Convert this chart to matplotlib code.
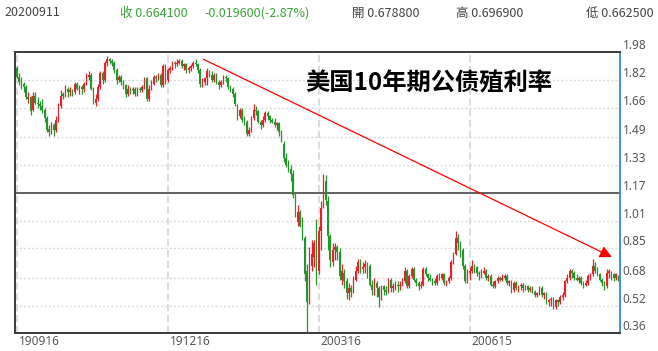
import numpy as np
import matplotlib
matplotlib.use("Agg")
import matplotlib.pyplot as plt
import matplotlib.transforms as mtransforms

# ── data: daily OHLC of the US 10y yield, 2019-09-16 .. 2020-09-11 (one row per week) ──
opens = [
    1.89, 1.84, 1.81, 1.80, 1.78,   1.71, 1.72, 1.65, 1.73, 1.69,
    1.68, 1.67, 1.65, 1.60, 1.54,   1.52, 1.56, 1.53, 1.59, 1.67,
    1.74, 1.73, 1.77, 1.75, 1.76,   1.75, 1.80, 1.77, 1.78, 1.77,
    1.80, 1.84, 1.85, 1.77, 1.69,   1.71, 1.78, 1.86, 1.82, 1.92,
    1.94, 1.93, 1.92, 1.88, 1.82,   1.84, 1.81, 1.79, 1.74, 1.77,
    1.76, 1.77, 1.74, 1.77, 1.76,   1.78, 1.83, 1.71, 1.77, 1.80,
    1.84, 1.83, 1.85, 1.79, 1.90,   1.82, 1.88, 1.89, 1.92, 1.91,
    1.92, 1.93, 1.90, 1.91, 1.88,   1.89, 1.90, 1.92, 1.91, 1.88,
    1.80, 1.81, 1.83, 1.87, 1.85,   1.82, 1.85, 1.81, 1.79, 1.81,
    1.84, 1.83, 1.78, 1.77, 1.74,   1.66, 1.61, 1.65, 1.59, 1.58,
    1.51, 1.53, 1.60, 1.65, 1.64,   1.58, 1.56, 1.59, 1.63, 1.61,
    1.59, 1.58, 1.56, 1.57, 1.52,   1.45, 1.37, 1.33, 1.31, 1.28,
    1.16, 1.00, 1.06, 1.00, 0.91,   0.72, 0.55, 0.75, 0.80, 0.98,
    0.72, 0.95, 1.09, 1.24, 1.12,   0.92, 0.77, 0.84, 0.86, 0.83,
    0.67, 0.71, 0.66, 0.59, 0.62,   0.60, 0.67, 0.72, 0.77, 0.73,
    0.74, 0.76, 0.75, 0.64, 0.61,   0.65, 0.62, 0.57, 0.63, 0.61,
    0.60, 0.67, 0.62, 0.63, 0.64,   0.63, 0.64, 0.66, 0.72, 0.63,
    0.69, 0.73, 0.67, 0.65, 0.63,   0.64, 0.73, 0.70, 0.68, 0.67,
    0.66, 0.65, 0.69, 0.68, 0.70,   0.65, 0.66, 0.68, 0.77, 0.82,
    0.91, 0.88, 0.84, 0.75, 0.66,   0.71, 0.72, 0.75, 0.74, 0.71,
    0.70, 0.71, 0.72, 0.68, 0.69,   0.64, 0.63, 0.66, 0.68, 0.67,
    0.68, 0.69, 0.65, 0.66, 0.61,   0.65, 0.62, 0.63, 0.64, 0.62,
    0.63, 0.61, 0.62, 0.60, 0.58,   0.59, 0.62, 0.58, 0.59, 0.54,
    0.55, 0.56, 0.51, 0.55, 0.54,   0.57, 0.58, 0.66, 0.68, 0.72,
    0.71, 0.68, 0.67, 0.68, 0.65,   0.64, 0.65, 0.69, 0.70, 0.75,
    0.72, 0.70, 0.67, 0.65, 0.63,   0.71, 0.70, 0.70, 0.68, 0.6788,
]
highs = [
    1.90, 1.86, 1.84, 1.81, 1.79,   1.75, 1.73, 1.75, 1.75, 1.72,
    1.70, 1.71, 1.66, 1.61, 1.56,   1.58, 1.57, 1.61, 1.69, 1.76,
    1.75, 1.79, 1.78, 1.78, 1.77,   1.81, 1.81, 1.79, 1.79, 1.81,
    1.86, 1.87, 1.86, 1.78, 1.74,   1.80, 1.87, 1.87, 1.93, 1.96,
    1.95, 1.94, 1.93, 1.89, 1.85,   1.85, 1.82, 1.80, 1.79, 1.78,
    1.78, 1.78, 1.78, 1.78, 1.79,   1.84, 1.84, 1.79, 1.82, 1.85,
    1.85, 1.86, 1.86, 1.91, 1.91,   1.89, 1.90, 1.93, 1.93, 1.94,
    1.94, 1.94, 1.92, 1.92, 1.90,   1.91, 1.93, 1.94, 1.92, 1.89,
    1.83, 1.84, 1.89, 1.88, 1.87,   1.86, 1.86, 1.82, 1.82, 1.85,
    1.85, 1.84, 1.79, 1.78, 1.75,   1.68, 1.66, 1.66, 1.61, 1.59,
    1.55, 1.61, 1.68, 1.67, 1.65,   1.59, 1.61, 1.64, 1.64, 1.62,
    1.60, 1.60, 1.58, 1.58, 1.53,   1.47, 1.40, 1.36, 1.33, 1.30,
    1.17, 1.10, 1.07, 1.03, 0.92,   0.76, 0.86, 0.90, 0.90, 1.02,
    0.98, 1.12, 1.28, 1.27, 1.15,   0.93, 0.88, 0.88, 0.87, 0.85,
    0.76, 0.73, 0.68, 0.65, 0.64,   0.69, 0.75, 0.79, 0.79, 0.77,
    0.78, 0.77, 0.76, 0.67, 0.68,   0.66, 0.63, 0.64, 0.64, 0.63,
    0.68, 0.68, 0.65, 0.66, 0.66,   0.66, 0.68, 0.74, 0.73, 0.70,
    0.74, 0.74, 0.68, 0.66, 0.66,   0.74, 0.74, 0.71, 0.70, 0.68,
    0.68, 0.70, 0.71, 0.71, 0.71,   0.67, 0.69, 0.78, 0.83, 0.95,
    0.93, 0.89, 0.85, 0.76, 0.73,   0.74, 0.78, 0.76, 0.75, 0.72,
    0.73, 0.74, 0.73, 0.70, 0.70,   0.66, 0.67, 0.69, 0.69, 0.70,
    0.70, 0.70, 0.67, 0.67, 0.66,   0.66, 0.64, 0.65, 0.65, 0.64,
    0.64, 0.63, 0.63, 0.61, 0.60,   0.63, 0.63, 0.60, 0.60, 0.56,
    0.57, 0.57, 0.56, 0.56, 0.58,   0.60, 0.67, 0.70, 0.73, 0.73,
    0.72, 0.70, 0.69, 0.69, 0.66,   0.67, 0.70, 0.71, 0.79, 0.77,
    0.74, 0.71, 0.68, 0.66, 0.73,   0.73, 0.72, 0.71, 0.71, 0.6969,
]
lows = [
    1.83, 1.79, 1.77, 1.75, 1.71,   1.69, 1.62, 1.64, 1.68, 1.66,
    1.65, 1.63, 1.58, 1.52, 1.50,   1.51, 1.50, 1.52, 1.58, 1.66,
    1.71, 1.72, 1.72, 1.73, 1.73,   1.74, 1.76, 1.74, 1.74, 1.75,
    1.79, 1.82, 1.76, 1.68, 1.67,   1.70, 1.77, 1.80, 1.81, 1.90,
    1.91, 1.90, 1.86, 1.80, 1.81,   1.79, 1.77, 1.72, 1.73, 1.74,
    1.74, 1.73, 1.73, 1.75, 1.75,   1.77, 1.70, 1.70, 1.76, 1.79,
    1.81, 1.82, 1.78, 1.78, 1.80,   1.81, 1.86, 1.88, 1.89, 1.90,
    1.91, 1.89, 1.88, 1.86, 1.86,   1.87, 1.89, 1.90, 1.86, 1.78,
    1.78, 1.79, 1.79, 1.84, 1.81,   1.81, 1.80, 1.77, 1.78, 1.80,
    1.81, 1.77, 1.75, 1.72, 1.67,   1.59, 1.60, 1.58, 1.56, 1.50,
    1.50, 1.52, 1.59, 1.62, 1.57,   1.54, 1.55, 1.58, 1.59, 1.57,
    1.57, 1.55, 1.53, 1.50, 1.46,   1.35, 1.32, 1.29, 1.24, 1.14,
    1.03, 0.98, 0.97, 0.90, 0.66,   0.32, 0.53, 0.72, 0.74, 0.64,
    0.70, 0.84, 1.08, 1.10, 0.84,   0.74, 0.75, 0.78, 0.78, 0.67,
    0.64, 0.62, 0.56, 0.55, 0.57,   0.59, 0.66, 0.71, 0.71, 0.71,
    0.71, 0.68, 0.63, 0.58, 0.58,   0.57, 0.51, 0.55, 0.58, 0.58,
    0.59, 0.60, 0.60, 0.61, 0.60,   0.61, 0.63, 0.65, 0.62, 0.62,
    0.68, 0.66, 0.63, 0.61, 0.62,   0.63, 0.69, 0.66, 0.66, 0.64,
    0.64, 0.64, 0.67, 0.67, 0.64,   0.63, 0.65, 0.67, 0.76, 0.81,
    0.84, 0.80, 0.73, 0.65, 0.65,   0.67, 0.71, 0.71, 0.69, 0.67,
    0.68, 0.70, 0.67, 0.66, 0.63,   0.62, 0.62, 0.65, 0.66, 0.66,
    0.67, 0.64, 0.63, 0.59, 0.60,   0.61, 0.60, 0.61, 0.60, 0.61,
    0.60, 0.60, 0.59, 0.57, 0.57,   0.58, 0.57, 0.56, 0.53, 0.52,
    0.52, 0.50, 0.50, 0.52, 0.53,   0.55, 0.57, 0.65, 0.67, 0.68,
    0.67, 0.66, 0.65, 0.64, 0.62,   0.63, 0.64, 0.67, 0.69, 0.71,
    0.69, 0.66, 0.63, 0.61, 0.62,   0.68, 0.67, 0.66, 0.67, 0.6625,
]
closes = [
    1.84, 1.81, 1.80, 1.78, 1.72,   1.72, 1.64, 1.73, 1.69, 1.68,
    1.67, 1.65, 1.60, 1.53, 1.52,   1.56, 1.53, 1.59, 1.67, 1.73,
    1.73, 1.77, 1.75, 1.76, 1.75,   1.80, 1.77, 1.78, 1.77, 1.80,
    1.84, 1.85, 1.77, 1.69, 1.71,   1.78, 1.86, 1.82, 1.92, 1.94,
    1.93, 1.92, 1.88, 1.82, 1.84,   1.81, 1.79, 1.74, 1.77, 1.76,
    1.77, 1.74, 1.77, 1.76, 1.78,   1.83, 1.71, 1.77, 1.80, 1.84,
    1.83, 1.85, 1.79, 1.90, 1.82,   1.88, 1.89, 1.92, 1.91, 1.92,
    1.93, 1.90, 1.91, 1.88, 1.89,   1.90, 1.92, 1.91, 1.88, 1.80,
    1.81, 1.83, 1.87, 1.85, 1.82,   1.85, 1.81, 1.79, 1.81, 1.84,
    1.83, 1.78, 1.77, 1.74, 1.68,   1.61, 1.65, 1.59, 1.58, 1.51,
    1.53, 1.60, 1.65, 1.64, 1.58,   1.56, 1.59, 1.63, 1.61, 1.59,
    1.58, 1.56, 1.57, 1.52, 1.47,   1.37, 1.33, 1.31, 1.28, 1.16,
    1.05, 1.06, 0.98, 0.92, 0.70,   0.54, 0.76, 0.82, 0.88, 0.73,
    0.95, 1.08, 1.25, 1.13, 0.92,   0.78, 0.84, 0.86, 0.83, 0.69,
    0.72, 0.66, 0.59, 0.62, 0.60,   0.67, 0.72, 0.77, 0.73, 0.74,
    0.76, 0.75, 0.64, 0.61, 0.65,   0.62, 0.57, 0.63, 0.61, 0.60,
    0.67, 0.62, 0.63, 0.64, 0.63,   0.64, 0.66, 0.72, 0.63, 0.69,
    0.73, 0.67, 0.65, 0.63, 0.64,   0.73, 0.70, 0.68, 0.67, 0.66,
    0.65, 0.69, 0.68, 0.70, 0.65,   0.66, 0.68, 0.77, 0.82, 0.91,
    0.88, 0.84, 0.75, 0.66, 0.71,   0.72, 0.75, 0.74, 0.71, 0.70,
    0.71, 0.72, 0.68, 0.69, 0.64,   0.63, 0.66, 0.68, 0.67, 0.68,
    0.69, 0.65, 0.66, 0.61, 0.65,   0.62, 0.63, 0.64, 0.62, 0.63,
    0.61, 0.62, 0.60, 0.58, 0.59,   0.62, 0.58, 0.59, 0.54, 0.55,
    0.56, 0.51, 0.55, 0.54, 0.57,   0.58, 0.66, 0.68, 0.72, 0.71,
    0.68, 0.67, 0.68, 0.65, 0.64,   0.65, 0.69, 0.70, 0.75, 0.72,
    0.70, 0.67, 0.65, 0.63, 0.71,   0.72, 0.70, 0.68, 0.70, 0.6641,
]

x_tick_bars = [0, 65, 130, 195]
x_tick_labels = ["190916", "191216", "200316", "200615"]
y_ticks = [0.36, 0.52, 0.68, 0.85, 1.01, 1.17, 1.33, 1.49, 1.66, 1.82, 1.98]
level_line = 1.17
trend_from = (80.4, 1.94)     # (bar, yield) of the hand-drawn trend arrow
trend_to = (256.2, 0.80)

header_date = "20200911"
header_close = "收 0.664100"
header_change = "-0.019600(-2.87%)"
header_open = "開 0.678800"
header_high = "高 0.696900"
header_low = "低 0.662500"
title = "美国10年期公债殖利率"

# ── colours ────────────────────────────────────────────────────────────────────
C_UP = "#e8202a"
C_DOWN = "#22962a"
C_FLAT = "#666666"
C_GRID = "#d9d9d9"
C_AXIS = "#3a3a3a"

W, H = 658, 351
fig = plt.figure(figsize=(W / 100, H / 100), dpi=100, facecolor="white")
ax = fig.add_axes([15 / W, (H - 333.3) / H, 604.5 / W, 281 / H])

o = np.array(opens)
h = np.array(highs)
l = np.array(lows)
c = np.array(closes)
x = np.arange(len(c))
colors = np.where(c > o, C_UP, np.where(c < o, C_DOWN, C_FLAT))

# grid first so the candles sit on top
for xb in x_tick_bars:
    ax.axvline(xb, color=C_GRID, lw=1.3, ls=(0, (4, 2)), zorder=0)
for yv in y_ticks[1:-1]:
    ax.axhline(yv, color=C_GRID, lw=1.0, ls=(0, (1.5, 1.5)), zorder=0)
ax.axhline(level_line, color="#555555", lw=1.3, zorder=1)

# candles: thin wick + slightly wider body
ax.vlines(x, l, h, colors=colors, lw=0.9, zorder=2)
body_lo = np.minimum(o, c)
body_h = np.maximum(np.abs(c - o), 0.004)
ax.bar(x, body_h, bottom=body_lo, width=0.66, color=colors, lw=0, zorder=3)

ax.annotate("", xy=trend_to, xytext=trend_from,
            arrowprops=dict(arrowstyle="-|>,head_length=0.55,head_width=0.28",
                            color="red", lw=0.9, mutation_scale=13,
                            shrinkA=0, shrinkB=0), zorder=4)

ax.set_xlim(-0.7, len(c) - 0.5)
ax.set_ylim(y_ticks[0], y_ticks[-1])
ax.set_xticks([])
ax.set_yticks([])
for side in ("left", "top", "bottom"):
    ax.spines[side].set_color(C_AXIS)
    ax.spines[side].set_linewidth(1.4)
ax.spines["right"].set_color("#3d8fe0")
ax.spines["right"].set_linewidth(1.4)

# tick labels: right side, sitting just above their grid line
ytrans = mtransforms.offset_copy(ax.get_yaxis_transform(), fig=fig, x=3, y=0, units="dots")
for yv in y_ticks:
    ax.text(1.0, yv, f"{yv:.2f}", transform=ytrans, ha="left", va="bottom",
            fontsize=8.5, family="Noto Sans", color="#555555", clip_on=False)
xtrans = mtransforms.offset_copy(ax.get_xaxis_transform(), fig=fig, x=2, y=-2, units="dots")
for xb, lab in zip(x_tick_bars, x_tick_labels):
    ax.text(xb, 0.0, lab, transform=xtrans, ha="left", va="top",
            fontsize=8.5, family="Noto Sans", color="#555555", clip_on=False)

# header row
hy = 1 - 13 / H
hdr = dict(fontsize=9, family=["Noto Sans CJK TC", "DejaVu Sans"], va="center")
fig.text(4 / W, hy, header_date, color="#444444", **hdr)
fig.text(120 / W, hy, header_close, color="#3aa33a", **hdr)
fig.text(204 / W, hy, header_change, color="#3aa33a", **hdr)
fig.text(352 / W, hy, header_open, color="#444444", **hdr)
fig.text(456 / W, hy, header_high, color="#444444", **hdr)
fig.text(654 / W, hy, header_low, color="#444444", ha="right", **hdr)

fig.text(305 / W, 1 - 83.3 / H, title, fontsize=17.5, fontweight="bold",
         family=["Noto Sans CJK SC", "DejaVu Sans"], color="black", va="center")

fig.savefig("out.png", dpi=100, facecolor="white")
